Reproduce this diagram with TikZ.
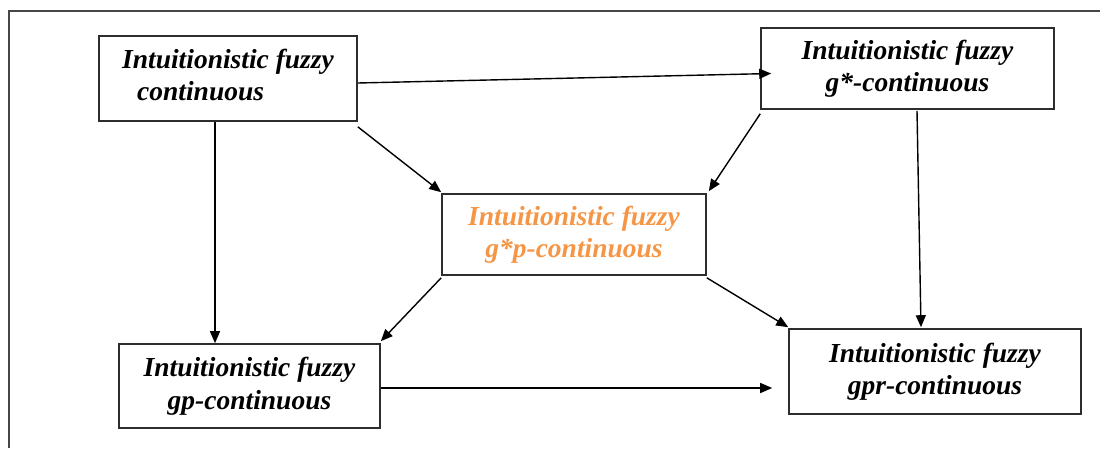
\documentclass[tikz,border=0pt]{standalone}
\usepackage{fontspec}
\setmainfont{Liberation Serif}
\usetikzlibrary{arrows.meta,calc}
\definecolor{frameg}{RGB}{70,70,70}
\definecolor{boxg}{RGB}{45,45,45}
\definecolor{orangetxt}{RGB}{245,150,70}
\tikzset{
  box/.style={draw=boxg, line width=1.6pt, minimum width=#1, inner sep=0pt, align=center,
    font=\fontsize{27.5}{32.5}\selectfont\bfseries\itshape},
  arr/.style={line width=1.4pt, draw=black, -{Triangle[length=12pt,width=10pt]}},
}
\begin{document}
\begin{tikzpicture}[x=1pt,y=-1pt]
\useasboundingbox (0,0) rectangle (1100,448);
\draw[frameg, line width=1.3pt] (9,448) -- (9,11) -- (1100,11);

\node[box=258pt, minimum height=85pt, align=left] (A) at (228,78.5) {Intuitionistic fuzzy\\\hspace*{15pt}continuous\rule[-7pt]{0pt}{1pt}};
\node[box=293pt, minimum height=81pt] (B) at (907.5,68.5) {Intuitionistic fuzzy\\g*-continuous};
\node[box=264pt, minimum height=81pt, text=orangetxt] (C) at (574,234.5) {Intuitionistic fuzzy\\g*p-continuous};
\node[box=261pt, minimum height=84pt] (D) at (249.5,386) {Intuitionistic fuzzy\\gp-continuous};
\node[box=292pt, minimum height=85pt] (E) at (935,371.5) {Intuitionistic fuzzy\\gpr-continuous};

\draw[arr] ($(A.east)+(0,4.5)$) -- ($(B.west)+(11,5)$);
\draw[arr] ($(A.south east)+(0,5)$) -- ($(C.north west)+(0,-1)$);
\draw[arr] ($(B.south west)+(0,4)$) -- ($(C.north east)+(2,-2)$);
\draw[arr] (A.south -| 215,0) -- (D.north -| 215,0);
\draw[arr] ($(B.south)+(9.5,1)$) -- ($(E.north)+(-14,-1)$);
\draw[arr] ($(C.south west)+(0,2)$) -- ($(D.north east)+(0,-2)$);
\draw[arr] ($(C.south east)+(0,2)$) -- ($(E.north west)+(0,-1)$);
\draw[arr] ($(D.east)+(0,2)$) -- ($(E.west)+(-16,16.5)$);
\end{tikzpicture}
\end{document}
